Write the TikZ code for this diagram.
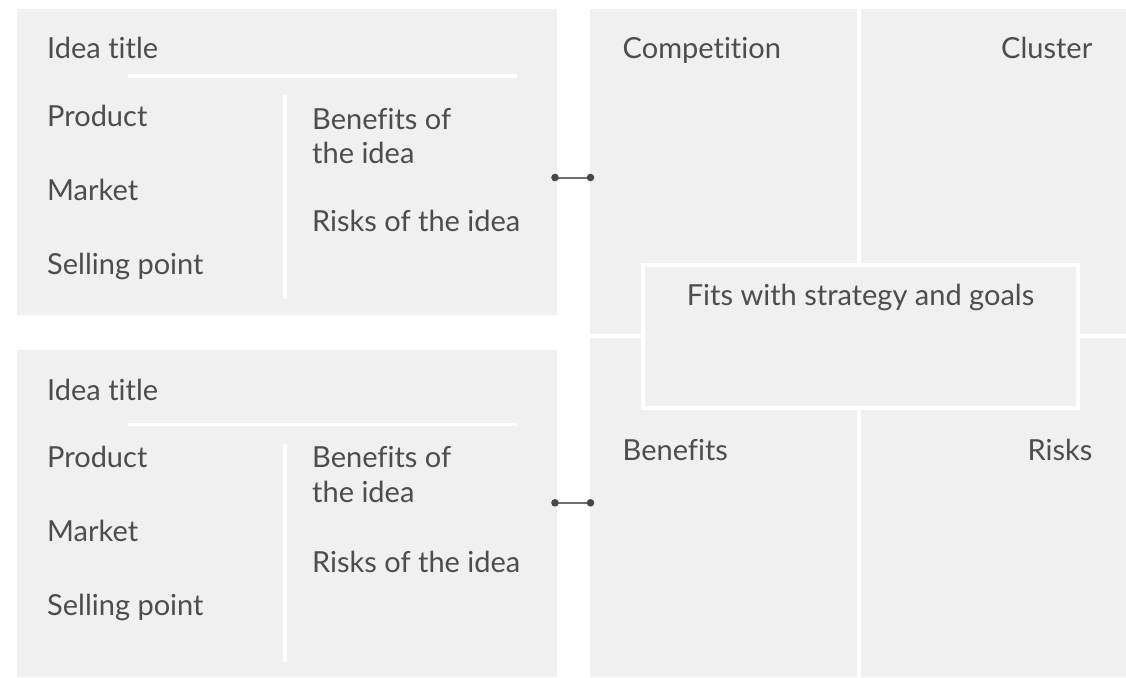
\documentclass[tikz,border=0pt]{standalone}
\usepackage{fontspec}
\setmainfont{Lato}[Ligatures={NoCommon,NoDiscretionary,NoRare}]
\usetikzlibrary{positioning}
\definecolor{panel}{HTML}{F0F0F0}
\definecolor{txt}{HTML}{4D4D4D}
\definecolor{connline}{HTML}{6E6E6E}
\definecolor{conndot}{HTML}{474747}
\tikzset{
  panelbox/.style={fill=panel, draw=none},
  lbl/.style={inner sep=0pt, text=txt, font=\fontsize{29}{34}\selectfont, anchor=base west},
  lblr/.style={lbl, anchor=base east},
  lblc/.style={lbl, anchor=base},
  sep/.style={draw=white, line width=3.5pt},
  conn/.style={draw=connline, line width=2pt},
  dot/.style={fill=conndot}
}
\begin{document}
\begin{tikzpicture}[x=1pt,y=-1pt]
\useasboundingbox[fill=white] (0,0) rectangle (1126,677);
% left panels
\path[panelbox] (17,9) rectangle (557,315);
\path[panelbox] (17,350) rectangle (557,677);
% right quadrants
\path[panelbox] (590,9) rectangle (857,334);
\path[panelbox] (861,9) rectangle (1126,334);
\path[panelbox] (590,338) rectangle (857,677);
\path[panelbox] (861,338) rectangle (1126,677);
% center box
\node[draw=white, line width=4pt, fill=panel, minimum width=435pt, minimum height=143pt, inner sep=0pt] (fit) at (860.5,336.5) {};
\node[lblc] (fittext) at (860.5,305.7) {Fits with strategy and goals};
% right labels
\node[lbl] (comp) at (622.5,58.5) {Competition};
\node[lblr] (clus) at (1092.5,58.5) {Cluster};
\node[lbl] (ben) at (622.5,460) {Benefits};
\node[lblr] (risk) at (1092.5,460) {Risks};
% top-left panel separators
\coordinate (h1a) at (128,76);
\coordinate (h1b) at (517,76);
\draw[sep] (h1a) -- (h1b);
\coordinate (v1a) at (285,95);
\coordinate (v1b) at (285,299);
\draw[sep] (v1a) -- (v1b);
% top-left texts
\node[lbl] (t1) at (47,58.3) {Idea title};
\node[lbl] (p1) at (47,126.5) {Product};
\node[lbl] (m1) at (47,200.5) {Market};
\node[lbl] (s1) at (47,274.5) {Selling point};
\node[lbl] (b1) at (312,129.5) {Benefits of};
\node[lbl] (b1b) at (312,163.5) {the idea};
\node[lbl] (r1) at (312,231.7) {Risks of the idea};
% bottom-left panel separators
\coordinate (h2a) at (128,424.5);
\coordinate (h2b) at (517,424.5);
\draw[sep] (h2a) -- (h2b);
\coordinate (v2a) at (285,444);
\coordinate (v2b) at (285,662);
\draw[sep] (v2a) -- (v2b);
% bottom-left texts
\node[lbl] (t2) at (47,400) {Idea title};
\node[lbl] (p2) at (47,467.5) {Product};
\node[lbl] (m2) at (47,541.5) {Market};
\node[lbl] (s2) at (47,615.5) {Selling point};
\node[lbl] (b2) at (312,467.5) {Benefits of};
\node[lbl] (b2b) at (312,502.5) {the idea};
\node[lbl] (r2) at (312,572.7) {Risks of the idea};
% connectors
\coordinate (c1l) at (555,177.5);
\coordinate (c1r) at (590.5,177.5);
\draw[conn] (c1l) -- (c1r);
\fill[dot] (c1l) circle (3.8);
\fill[dot] (c1r) circle (3.8);
\coordinate (c2l) at (555,502.8);
\coordinate (c2r) at (590.5,502.8);
\draw[conn] (c2l) -- (c2r);
\fill[dot] (c2l) circle (3.8);
\fill[dot] (c2r) circle (3.8);
\end{tikzpicture}
\end{document}
